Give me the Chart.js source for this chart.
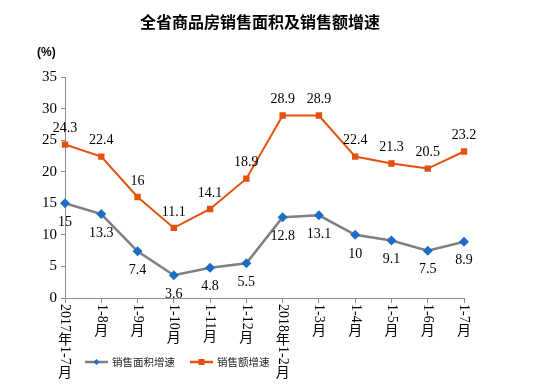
<!DOCTYPE html>
<html><head><meta charset="utf-8">
<script src="https://cdn.jsdelivr.net/npm/chart.js@4"></script>
<style>html,body{margin:0;padding:0;background:#fff}#wrap{width:550px;height:388px}</style>
</head><body><div id="wrap"><canvas id="c" width="550" height="388"></canvas></div>
<script>
const categories = ['2017年1-7月','1-8月','1-9月','1-10月','1-11月','1-12月','2018年1-2月','1-3月','1-4月','1-5月','1-6月','1-7月'];
const areaGrowth = [15, 13.3, 7.4, 3.6, 4.8, 5.5, 12.8, 13.1, 10, 9.1, 7.5, 8.9];
const amountGrowth = [24.3, 22.4, 16, 11.1, 14.1, 18.9, 28.9, 28.9, 22.4, 21.3, 20.5, 23.2];
const yTicks = [0, 5, 10, 15, 20, 25, 30, 35];
const seriesNames = ['销售面积增速', '销售额增速'];
const titleText = '全省商品房销售面积及销售额增速';
const unitText = '(%)';

const ORANGE = '#E6500E', GRAY = '#7F7F7F', BLUE = '#1C6DC6';
const SERIF = '"Liberation Serif", "DejaVu Serif", "Noto Sans CJK SC", serif';
const CJK = '"Noto Sans CJK SC", sans-serif';

const decor = {
  id: 'decor',
  afterDraw(chart) {
    const ctx = chart.ctx;
    const xs = chart.scales.x;
    ctx.save();
    // title
    ctx.fillStyle = '#000';
    ctx.font = 'bold 16px ' + CJK;
    ctx.textAlign = 'center'; ctx.textBaseline = 'middle';
    ctx.fillText(titleText, 260, 22);
    ctx.font = 'bold 12px "Liberation Sans", Arial, sans-serif';
    ctx.textAlign = 'left';
    ctx.fillText(unitText, 37, 53);
    // vertical category labels
    const fs = 14;
    categories.forEach((lab, i) => {
      const x = xs.getPixelForTick(i);
      let y = xs.top + 6;
      const runs = [];
      for (const ch of lab) {
        const cjk = ch.charCodeAt(0) > 0x2E80;
        if (runs.length && runs[runs.length-1].cjk === cjk && !cjk) runs[runs.length-1].t += ch;
        else runs.push({t: ch, cjk});
      }
      runs.forEach(r => {
        if (r.cjk) {
          ctx.font = fs + 'px ' + CJK;
          ctx.textAlign = 'center'; ctx.textBaseline = 'middle';
          ctx.fillText(r.t, x, y + fs/2);
          y += fs;
        } else {
          ctx.font = fs + 'px ' + SERIF;
          const w = ctx.measureText(r.t).width;
          ctx.save();
          ctx.translate(x, y);
          ctx.rotate(Math.PI/2);
          ctx.textAlign = 'left'; ctx.textBaseline = 'middle';
          ctx.fillText(r.t, 0, 0);
          ctx.restore();
          y += w;
        }
      });
    });
    // data labels
    ctx.font = '14px ' + SERIF;
    ctx.textAlign = 'center'; ctx.textBaseline = 'middle';
    ctx.fillStyle = '#000';
    chart.getDatasetMeta(0).data.forEach((p, i) => {
      ctx.fillText(String(areaGrowth[i]), p.x, p.y + 19);
    });
    chart.getDatasetMeta(1).data.forEach((p, i) => {
      ctx.fillText(String(amountGrowth[i]), p.x, p.y - 16);
    });
    // legend
    const ly = 362;
    const items = [{x0: 85, x1: 108, c: GRAY, m: BLUE, s: 'diamond', tx: 112, t: seriesNames[0]},
                   {x0: 190, x1: 213, c: ORANGE, m: ORANGE, s: 'rect', tx: 217, t: seriesNames[1]}];
    items.forEach(it => {
      ctx.strokeStyle = it.c; ctx.lineWidth = 2.5;
      ctx.beginPath(); ctx.moveTo(it.x0, ly); ctx.lineTo(it.x1, ly); ctx.stroke();
      const cx = (it.x0 + it.x1) / 2;
      ctx.fillStyle = it.m;
      ctx.beginPath();
      if (it.s === 'diamond') { ctx.moveTo(cx, ly-3); ctx.lineTo(cx+3, ly); ctx.lineTo(cx, ly+3); ctx.lineTo(cx-3, ly); ctx.closePath(); }
      else ctx.rect(cx-3, ly-3, 6, 6);
      ctx.fill();
      ctx.fillStyle = '#222';
      ctx.font = '10.5px ' + CJK;
      ctx.textAlign = 'left'; ctx.textBaseline = 'middle';
      ctx.fillText(it.t, it.tx, ly);
    });
    ctx.restore();
  }
};

new Chart(document.getElementById('c'), {
  type: 'line',
  data: {
    labels: categories,
    datasets: [
      {label: seriesNames[0], data: areaGrowth, borderColor: GRAY, borderWidth: 2.5, pointStyle: 'rectRot', pointRadius: 5, pointBackgroundColor: BLUE, pointBorderColor: BLUE, pointBorderWidth: 0, tension: 0},
      {label: seriesNames[1], data: amountGrowth, borderColor: ORANGE, borderWidth: 2, pointStyle: 'rect', pointRadius: 4.5, pointBackgroundColor: ORANGE, pointBorderColor: ORANGE, pointBorderWidth: 0, tension: 0}
    ]
  },
  options: {
    responsive: false, animation: false,
    layout: {padding: {left: 0, right: 86, top: 77, bottom: 0}},
    plugins: {legend: {display: false}, tooltip: {enabled: false}, title: {display: false}},
    scales: {
      x: {
        offset: false,
        grid: {drawOnChartArea: false, drawTicks: true, tickLength: 5, color: '#8C8C8C'},
        border: {color: '#8C8C8C', width: 1},
        ticks: {display: false},
        afterFit(s) { s.height = 90; }
      },
      y: {
        min: 0, max: 35,
        afterBuildTicks(s) { s.ticks = yTicks.map(v => ({value: v})); },
        grid: {drawOnChartArea: false, drawTicks: true, tickLength: 4, color: '#8C8C8C'},
        border: {color: '#8C8C8C', width: 1},
        ticks: {color: '#000', font: {family: SERIF, size: 15}, padding: 4},
        afterFit(s) { s.width = 65; }
      }
    }
  },
  plugins: [decor]
});
</script></body></html>
